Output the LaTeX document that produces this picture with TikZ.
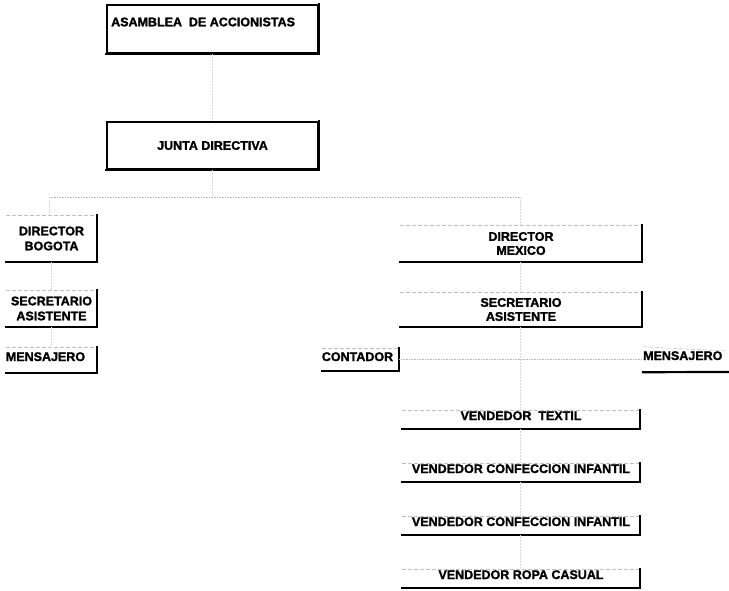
\documentclass[tikz,border=0pt]{standalone}
\usepackage{fontspec}
\setmainfont[BoldFeatures={FakeBold=1.6}]{Liberation Sans}
\usepackage{tikz}
\usetikzlibrary{positioning}

\begin{document}
\begin{tikzpicture}[x=1pt,y=-1pt,
		rotulo/.style={font=\bfseries\fontsize{12.5}{14}\selectfont, align=center, inner sep=0pt},
		caja/.style={rotulo, inner xsep=0pt, inner ysep=0pt},
		marco/.style={draw, line width=1.5pt},
		sombra/.style={line width=2.2pt, line cap=rect},
		borde/.style={gray!50, line width=0.5pt, dash pattern=on 4pt off 2pt},
		enlace/.style={gray!30, line width=0.5pt, densely dotted},
		bus/.style={gray!55, line width=0.6pt, densely dotted}]
		
		\useasboundingbox (0,0) rectangle (729,591);
		
		% cuerpo directivo
		\node[marco, minimum width=211, minimum height=48] (asam) at (212.5,29) {};
		\node[rotulo, anchor=west] (asamtxt) at (111,22) {ASAMBLEA\ \ DE ACCIONISTAS};
		\node[marco, caja, minimum width=211, minimum height=47] (junta) at (212.5,145.5) {JUNTA DIRECTIVA};
		\draw[sombra] (asam.south west) -- (asam.south east) -- (asam.north east);
		\draw[sombra] (junta.south west) -- (junta.south east) -- (junta.north east);
		
		% sede Bogota
		\node[caja, minimum width=91, minimum height=47] (dirbog) at (51.5,238.5) {DIRECTOR\\[1pt]BOGOTA};
		\node[caja, minimum width=91, minimum height=37] (secbog) at (51.5,308.5) {SECRETARIO\\[1pt]ASISTENTE};
		\node[caja, text height=14, text depth=12, anchor=base, minimum width=91] (menbog) at (51.5,361) {MENSAJERO\hspace{12pt}};
		
		% sede Mexico
		\node[caja, minimum width=242, minimum height=37] (dirmex) at (521,243.5) {DIRECTOR\\MEXICO};
		\node[caja, minimum width=242, minimum height=35] (secmex) at (521,309.5) {SECRETARIO\\ASISTENTE};
		\node[caja, text height=13, text depth=10, anchor=base, minimum width=77] (conta) at (360.5,361) {CONTADOR\hspace{6pt}};
		\node[caja, text height=13, text depth=12, anchor=base west] (menmex) at (643,360) {MENSAJERO};
		\node[caja, text height=10, text depth=9, anchor=base, minimum width=238] (vtex) at (521,420) {VENDEDOR\ \ TEXTIL};
		\node[caja, text height=10, text depth=9, anchor=base, minimum width=238] (vinf1) at (521,473) {VENDEDOR CONFECCION INFANTIL};
		\node[caja, text height=10, text depth=9, anchor=base, minimum width=238] (vinf2) at (521,526) {VENDEDOR CONFECCION INFANTIL};
		\node[caja, text height=10, text depth=9, anchor=base, minimum width=238] (vropa) at (521,579) {VENDEDOR ROPA CASUAL};
		
		% bordes de las cajas
		\foreach \n in {dirbog,secbog,menbog,dirmex,secmex,conta,vtex,vinf1,vinf2,vropa}{
			\draw[borde] (\n.north west) -- (\n.north east);
			\draw[sombra] (\n.south west) -- (\n.south east) -- (\n.north east);
		}
		\draw[borde] (menmex.north west) -- (727,351);
		\draw[sombra] (menmex.south west) -- (729,372);
		
		% lineas de mando
		\coordinate (busw) at (49,197);
		\coordinate (buse) at (520,197);
		\coordinate (nudo) at (520,360);
		\draw[enlace] (asam) -- (junta);
		\draw[enlace] (junta.south) -- (junta.south |- busw);
		\draw[bus] (busw) -- (buse);
		\draw[enlace] (busw) -- (busw |- dirbog.north);
		\draw[enlace] (buse) -- (dirmex.north -| buse);
		\draw[enlace] (dirbog) -- (secbog) -- (menbog);
		\draw[enlace] (dirmex.south -| nudo) -- (secmex.north -| nudo);
		\draw[enlace] (secmex.south -| nudo) -- (nudo);
		\draw[bus] (conta.east) -- (menmex.west);
		\draw[enlace] (nudo) -- (vtex.north -| nudo);
		\foreach \a/\b in {vtex/vinf1,vinf1/vinf2,vinf2/vropa}
			\draw[enlace] (\a.south -| nudo) -- (\b.north -| nudo);
		
	\end{tikzpicture}
\end{document}
